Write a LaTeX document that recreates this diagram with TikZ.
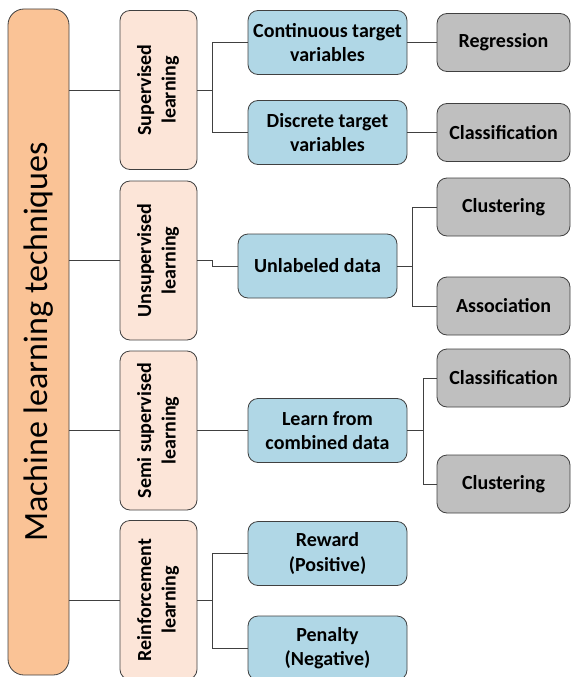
\documentclass[tikz,border=0pt]{standalone}
\usepackage{fontspec}
\setmainfont{Carlito}
\usepackage{graphicx}
\definecolor{mlorange}{RGB}{250,195,150}
\definecolor{mlpeach}{RGB}{252,229,216}
\definecolor{mlblue}{RGB}{176,215,230}
\definecolor{mlgrey}{RGB}{191,191,191}
\definecolor{mlline}{RGB}{64,64,64}
\newcommand{\vtext}[1]{\rotatebox{90}{\begin{tabular}{@{}c@{}}#1\end{tabular}}}
\tikzset{
  box/.style={draw=mlline, line width=0.8pt, rounded corners=10pt, inner sep=0pt,
    align=center, font=\fontsize{20}{24.5}\selectfont\bfseries},
  root/.style={box, fill=mlorange, rounded corners=16pt, minimum width=61pt,
    minimum height=666pt, font=\fontsize{34}{40}\selectfont},
  kind/.style={box, fill=mlpeach, minimum width=77pt, minimum height=159pt},
  info/.style={box, fill=mlblue, minimum width=159pt, minimum height=64pt},
  task/.style={box, fill=mlgrey, minimum width=133pt, minimum height=58pt},
  trunk/.style={to path={(\tikztostart.east |- \tikztotarget.west) -- (\tikztotarget.west)}},
  elbow/.style={to path={(\tikztostart.east) -- ++(#1,0) |- (\tikztotarget.west)}},
  elbow/.default=15
}
\begin{document}
\begin{tikzpicture}[x=1pt, y=-1pt, every edge/.append style={draw=mlline, line width=0.8pt}]
\useasboundingbox (0,0) rectangle (571,677);
% Nodos
\node [root] (main) at (38.5,342) {\rotatebox{90}{Machine learning techniques}};

\node [kind] (sup)    at (158.5,90)    {\vtext{Supervised\\learning}};
\node [kind] (unsup)  at (158.5,260.5) {\vtext{Unsupervised\\learning}};
\node [kind] (semi)   at (158.5,430.5) {\vtext{Semi supervised\\learning}};
\node [kind] (reinf)  at (158.5,600)   {\vtext{Reinforcement\\learning}};

\node [info] (cont)    at (327.5,42.5)  {Continuous target\\variables};
\node [info] (disc)    at (327.5,132.5) {Discrete target\\variables};
\node [info] (unlab)   at (317.5,266)   {Unlabeled data};
\node [info] (comb)    at (327.5,430.5) {Learn from\\combined data};
\node [info] (reward)  at (327.5,553.5) {Reward\\(Positive)};
\node [info] (penalty) at (327.5,648)   {Penalty\\(Negative)};

\node [task] (regr)      at (503.5,42.5)  {Regression};
\node [task] (class)     at (503.5,132.5) {Classification};
\node [task] (clust)     at (503.5,207)   {Clustering};
\node [task] (assoc)     at (503.5,306)   {Association};
\node [task] (semiclass) at (503.5,378)   {Classification};
\node [task] (semiclust) at (503.5,484)   {Clustering};
% Ejes
\path (main) edge [trunk] (sup)
      (main) edge [trunk] (unsup)
      (main) edge [trunk] (semi)
      (main) edge [trunk] (reinf);

\path (sup) edge [elbow] (cont)
      (sup) edge [elbow] (disc);
\path (cont) edge (regr);
\path (disc) edge (class);

\path (unsup) edge [elbow] (unlab);
\path (unlab) edge [elbow] (clust)
      (unlab) edge [elbow] (assoc);

\path (semi) edge (comb);
\path (comb) edge [elbow=16] (semiclass)
      (comb) edge [elbow=16] (semiclust);

\path (reinf) edge [elbow] (reward)
      (reinf) edge [elbow] (penalty);
\end{tikzpicture}
\end{document}
